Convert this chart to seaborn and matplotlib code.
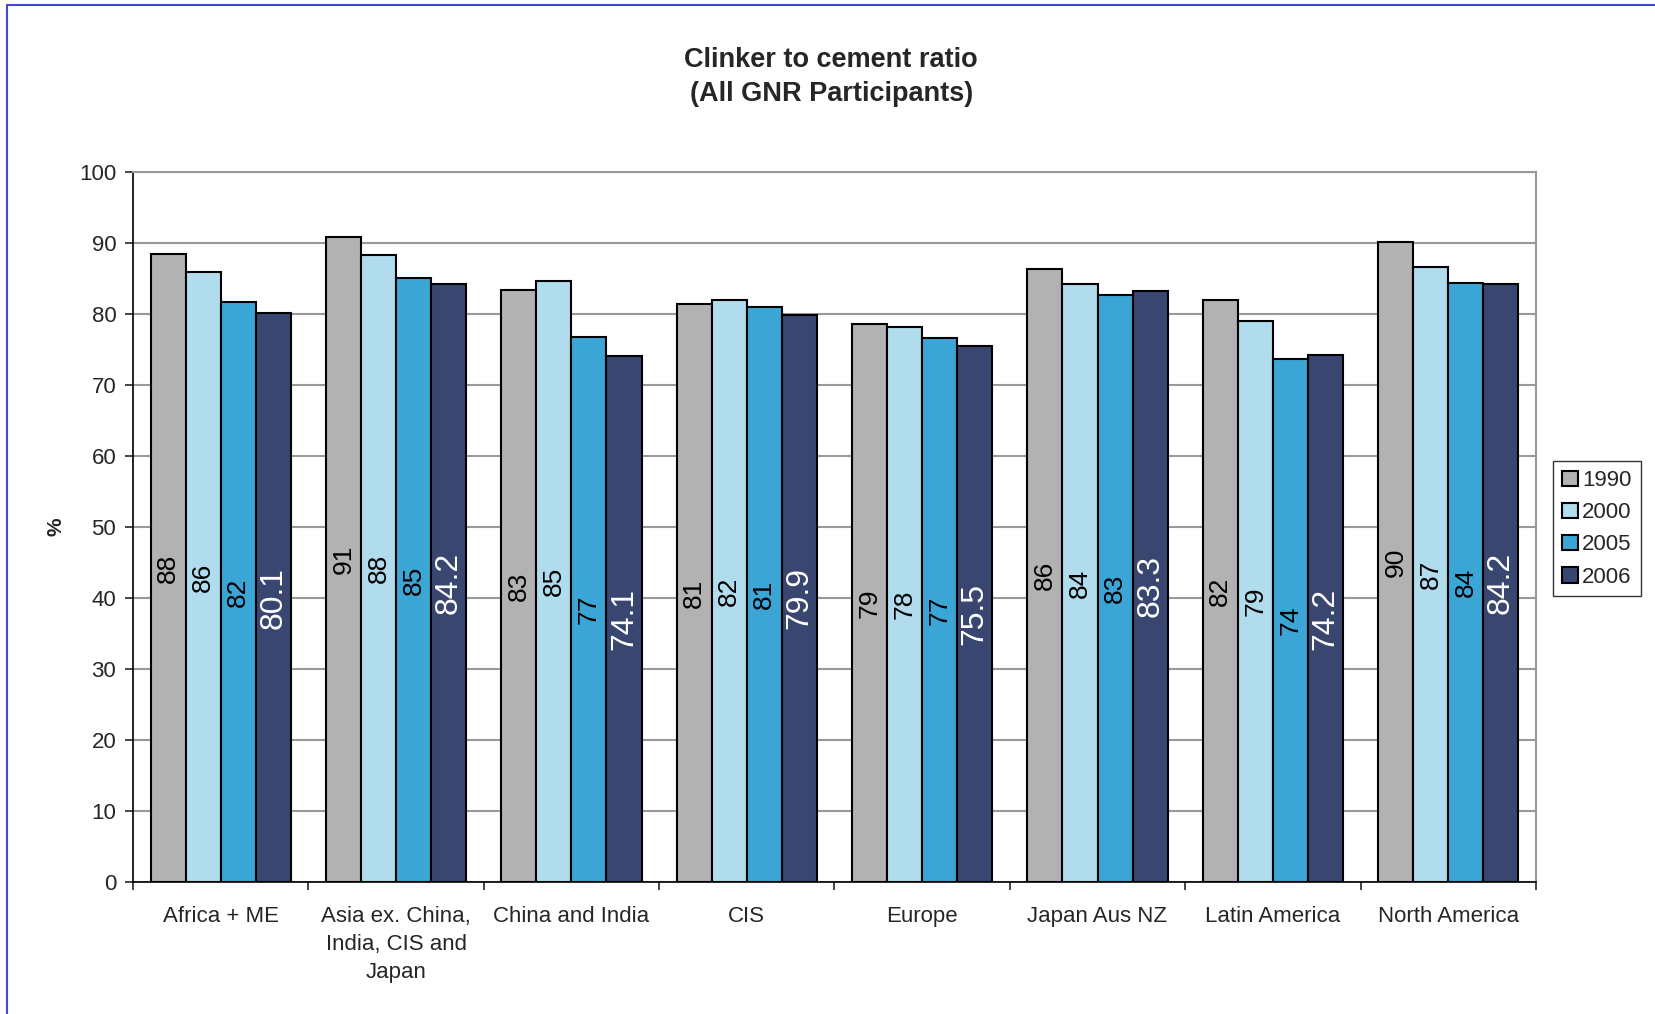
import numpy as np
import pandas as pd
import matplotlib
matplotlib.use("Agg")
import matplotlib.pyplot as plt
import seaborn as sns
from matplotlib.lines import Line2D

# data
regions = ["Africa + ME", "Asia ex. China,\nIndia, CIS and\nJapan", "China and India", "CIS",
           "Europe", "Japan Aus NZ", "Latin America", "North America"]
years = ["1990", "2000", "2005", "2006"]
v1990 = [88.4, 90.8, 83.4, 81.4, 78.6, 86.3, 82.0, 90.1]
v2000 = [85.9, 88.3, 84.6, 82.0, 78.2, 84.2, 79.0, 86.6]
v2005 = [81.7, 85.0, 76.7, 81.0, 76.6, 82.7, 73.7, 84.4]
v2006 = [80.1, 84.2, 74.1, 79.9, 75.5, 83.3, 74.2, 84.2]
colors = ["#B2B2B2", "#B0DCEE", "#3BA6D6", "#394770"]

df = pd.DataFrame({
    "Region": regions * 4,
    "Year": np.repeat(years, len(regions)),
    "Value": v1990 + v2000 + v2005 + v2006,
})

sns.set_style("white")
plt.rcParams["font.family"] = ["Liberation Sans", "DejaVu Sans"]

fig = plt.figure(figsize=(16.56, 10.14), dpi=100)
ax = fig.add_axes([0.0803, 0.1302, 0.8472, 0.7002])

sns.barplot(data=df, x="Region", y="Value", hue="Year", palette=colors,
            edgecolor="black", linewidth=1.5, width=0.8, saturation=1, ax=ax)

# value labels inside bars
for i, cont in enumerate(ax.containers):
    if i < 3:
        ax.bar_label(cont, fmt="{:.0f}", label_type="center", rotation=90,
                     fontsize=19, color="black")
    else:
        ax.bar_label(cont, fmt="{:.1f}", label_type="center", rotation=90,
                     fontsize=23, color="white")

ax.set_ylim(0, 100)
ax.set_xlim(-0.5, 7.5)
ax.set_yticks(range(0, 101, 10))
ax.yaxis.grid(True, color="#999999", linewidth=1.5)
ax.set_axisbelow(True)
ax.tick_params(axis="y", labelsize=16, length=6, width=1.2, direction="out", left=True, pad=6)
ax.set_xticks(np.arange(-0.5, 8, 1), minor=True)
ax.tick_params(axis="x", which="major", length=0, labelsize=16, pad=17)
ax.tick_params(axis="x", which="minor", length=6, width=1.2, direction="out", bottom=True)
for lab in ax.get_xticklabels():
    lab.set_linespacing(1.45)

for s in ["left", "bottom"]:
    ax.spines[s].set_color("black")
    ax.spines[s].set_linewidth(1.2)
for s in ["top", "right"]:
    ax.spines[s].set_color("#999999")
    ax.spines[s].set_linewidth(1.5)

ax.set_xlabel("")
ax.set_ylabel("%", fontsize=15, fontweight="bold", labelpad=10)

fig.text(0.502, 0.924, "Clinker to cement ratio\n(All GNR Participants)", ha="center",
         va="center", fontsize=19.5, fontweight="bold", linespacing=1.42)

ax.get_legend().remove()
handles = [plt.Rectangle((0, 0), 1, 1, facecolor=c, edgecolor="black", linewidth=1.5) for c in colors]
leg = fig.legend(handles, years, loc="upper left", bbox_to_anchor=(0.938, 0.545),
                 fontsize=16, frameon=True, fancybox=False, handlelength=0.7,
                 handleheight=0.7, handletextpad=0.2, borderpad=0.4, labelspacing=0.5,
                 borderaxespad=0)
leg.get_frame().set_edgecolor("black")
leg.get_frame().set_linewidth(1.0)

# thin blue border of the original frame
fig.add_artist(Line2D([0.0045, 0.0045], [0, 0.995], transform=fig.transFigure, color="#4444DD", linewidth=1.5))
fig.add_artist(Line2D([0.0045, 1], [0.995, 0.995], transform=fig.transFigure, color="#4444DD", linewidth=1.5))

fig.savefig("out.png", dpi=100, facecolor="white")
